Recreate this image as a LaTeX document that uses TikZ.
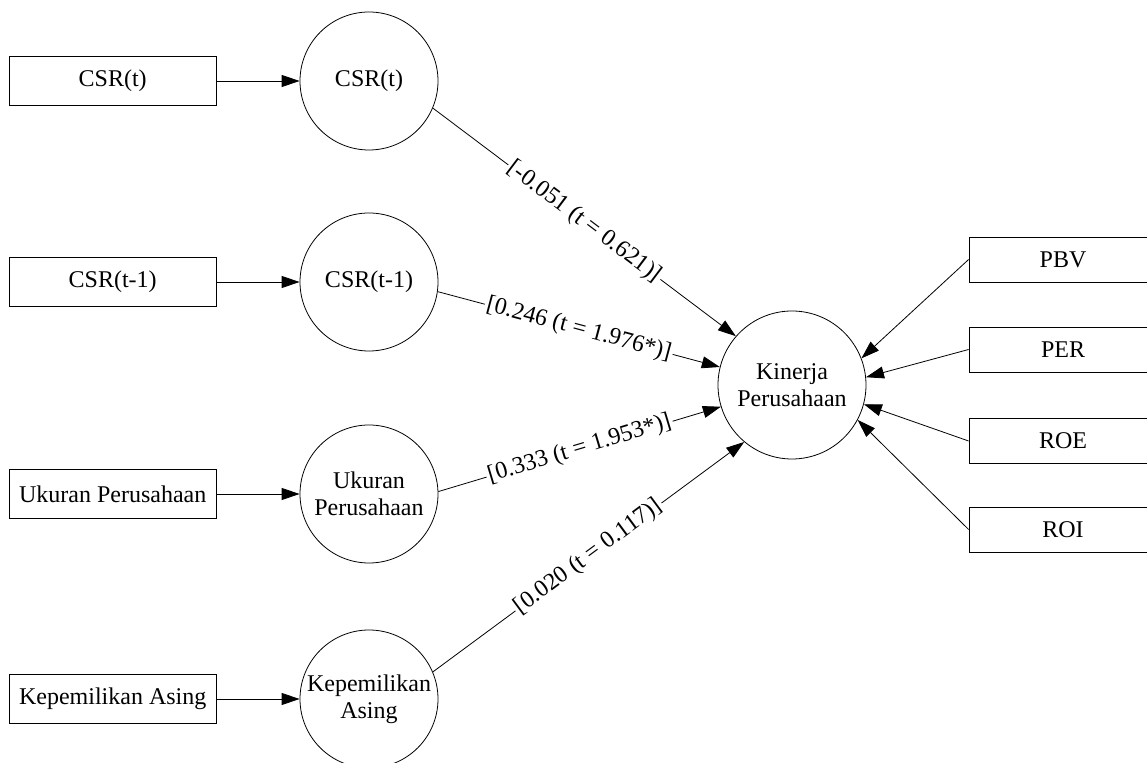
\documentclass[tikz,border=0pt]{standalone}
\usepackage{fontspec}
\setmainfont{Liberation Serif}
\usetikzlibrary{arrows.meta,positioning}

\begin{document}
\begin{tikzpicture}[x=0.5pt,y=-0.5pt,->,>={Triangle[length=9pt,width=6pt]},thin,
                        node distance=41.5pt, font=\fontsize{12}{13.5}\selectfont,
                        boxnode/.style={rectangle, draw=black, minimum width=103.5pt, minimum height=24.5pt},
                        rboxnode/.style={rectangle, draw=black, minimum width=94pt, minimum height=22.5pt},
                        latnode/.style={circle, draw=black, align=center, inner sep=0pt, minimum size=69pt},
                        lbl/.style={sloped, fill=white, inner sep=1pt, pos=0.5}]
      \useasboundingbox (0,0) rectangle (1147,763);

      \node[latnode]                       (E) at (369,81)  {CSR(t)};
      \node[latnode]                       (F) at (369,282) {CSR(t-1)};
      \node[latnode]                       (G) at (369,494) {Ukuran\\Perusahaan};
      \node[latnode]                       (H) at (369,699) {Kepemilikan\\Asing};
      \node[latnode, minimum size=74pt]    (K) at (792,385) {Kinerja\\Perusahaan};
      \node[boxnode]                       (A) [left=of E]  {CSR(t)};
      \node[boxnode]                       (B) [left=of F]  {CSR(t-1)};
      \node[boxnode]                       (C) [left=of G]  {Ukuran Perusahaan};
      \node[boxnode]                       (D) [left=of H]  {Kepemilikan Asing};
      \node[rboxnode]                      (P) at (1063,259.5) {PBV};
      \node[rboxnode]                      (Q) at (1063,349.5) {PER};
      \node[rboxnode]                      (R) at (1063,441)   {ROE};
      \node[rboxnode]                      (S) at (1063,529.5) {ROI};

      \path (A) edge (E)
            (B) edge (F)
            (C) edge (G)
            (D) edge (H)
            (E.-23) edge node[lbl] {[-0.051 (t = 0.621)]} (K.139)
            (F.-8)  edge node[lbl] {[0.246 (t = 1.976*)]} (K.166)
            (G.2)   edge node[lbl] {[0.333 (t = 1.953*)]} (K.197)
            (H.23)  edge node[lbl] {[0.020 (t = 0.117)]}  (K.230)
            (P.west) edge (K.21)
            (Q.west) edge (K.6)
            (R.west) edge (K.-15)
            (S.west) edge (K.-28);
\end{tikzpicture}
\end{document}
